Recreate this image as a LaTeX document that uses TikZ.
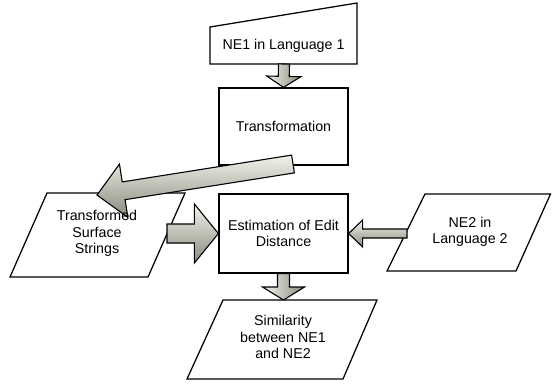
\documentclass[tikz,border=0pt]{standalone}
\usepackage{fontspec}
\setmainfont{Liberation Sans}
\usetikzlibrary{calc}
\definecolor{alight}{HTML}{F2F2EC}
\definecolor{adark}{HTML}{8A8A7C}
\newcommand{\fs}{\fontsize{14.3}{16.5}\selectfont}
% block arrow: #1 start, #2 tip, #3 shaft half width, #4 head half width, #5 head length, #6 style
\newcommand{\blockarr}[6]{%
  \coordinate (ba-a) at (#1);
  \coordinate (ba-b) at (#2);
  \coordinate (ba-h) at ($(ba-b)!#5!(ba-a)$);
  \path[#6] ($(ba-a)!#3!90:(ba-b)$) -- ($(ba-h)!#3!90:(ba-b)$) -- ($(ba-h)!#4!90:(ba-b)$) -- (ba-b)
    -- ($(ba-h)!#4!-90:(ba-b)$) -- ($(ba-h)!#3!-90:(ba-b)$) -- ($(ba-a)!#3!-90:(ba-b)$) -- cycle;
}
\begin{document}
\begin{tikzpicture}[x=1bp,y=-1bp,line width=1.25bp,line join=miter,
  box/.style={draw, fill=white, minimum width=129bp, inner sep=0pt, font=\fs, align=center},
  txt/.style={align=center, font=\fs, inner sep=0pt},
  harr/.style={draw, line width=1.1bp, top color=alight, bottom color=adark},
  varr/.style={draw, line width=1.1bp, left color=alight, right color=adark}]
\useasboundingbox (0,0) rectangle (552,383);
% shapes
\draw (210,27) -- (357,3) -- (357,64) -- (210,64) -- cycle;
\node[txt] (ne1) at (283.5,46) {NE1 in Language 1};
\node[box, minimum height=77bp] (trans) at (283.5,126.5) {Transformation};
\node[box, minimum height=79bp] (est) at (283.5,233.5) {Estimation of Edit\\Distance};
\draw (47,193) -- (185,193) -- (148,277) -- (10,277) -- cycle;
\draw (425,194) -- (550.5,194) -- (516,271) -- (387,271) -- cycle;
\draw (223,300) -- (377,300) -- (343,379) -- (187,379) -- cycle;
% arrow end points
\coordinate (ne1b) at (284,64);
\coordinate (tA) at (293,164);
\coordinate (tssTip) at (97,195);
\coordinate (lpR) at (167,233.5);
\coordinate (rpL) at (407,233.5);
\coordinate (simT) at (283.5,300);
% arrows
\blockarr{ne1b}{trans.north}{5.5bp}{17bp}{11bp}{varr}
\blockarr{tA}{tssTip}{9bp}{27bp}{27bp}{harr}
\blockarr{lpR}{est.west}{9.5bp}{29.5bp}{24bp}{harr}
\blockarr{rpL}{est.east}{4.5bp}{13.5bp}{14bp}{harr}
\blockarr{est.south}{simT}{6bp}{21bp}{13bp}{varr}
% texts
\node[txt] (tss) at (97,233.5) {Transformed\\Surface\\Strings};
\node[txt] (ne2) at (470,232) {NE2 in\\Language 2};
\node[txt] (sim) at (283,337) {Similarity\\between NE1\\and NE2};
\end{tikzpicture}
\end{document}
